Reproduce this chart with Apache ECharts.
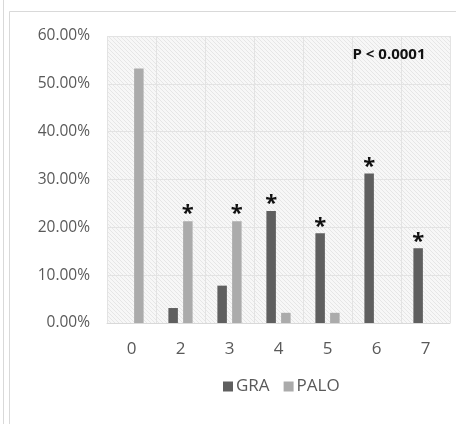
<!DOCTYPE html>
<html>
<head>
<meta charset="utf-8">
<script src="https://cdn.jsdelivr.net/npm/echarts@6/dist/echarts.min.js"></script>
<style>
  html, body { margin: 0; padding: 0; background: #fff; }
  #chart { width: 456px; height: 424px; }
</style>
</head>
<body>
<div id="chart"></div>
<script>
// Categories (score) and share of each group, in percent
var categories = ['0', '2', '3', '4', '5', '6', '7'];
var graValues = [0, 3.13, 7.81, 23.44, 18.75, 31.25, 15.63];
var paloValues = [53.19, 21.28, 21.28, 2.13, 2.13, 0, 0];
// Which bars carry a significance star
var graStars = [false, false, false, true, true, true, true];
var paloStars = [false, true, true, false, false, false, false];
var yTicks = { min: 0, max: 60, step: 10 };
var pText = 'P < 0.0001';

var FONT = '"Open Sans", "Liberation Sans", sans-serif';

// fine diagonal hatch for the plot background
function hatch() {
  var c = document.createElement('canvas');
  c.width = 4; c.height = 4;
  var g = c.getContext('2d');
  g.fillStyle = '#f7f7f7';
  g.fillRect(0, 0, 4, 4);
  g.strokeStyle = '#e6e6e6';
  g.lineWidth = 1;
  g.beginPath();
  g.moveTo(0, 0); g.lineTo(4, 4);
  g.moveTo(-1, 3); g.lineTo(1, 5);
  g.moveTo(3, -1); g.lineTo(5, 1);
  g.stroke();
  return { image: c, repeat: 'repeat' };
}

function withStars(values, stars) {
  return values.map(function (v, i) {
    return {
      value: v,
      label: { show: stars[i] }
    };
  });
}

var starLabel = {
  position: 'top',
  distance: -4,
  formatter: '*',
  fontFamily: FONT,
  fontWeight: 'bold',
  fontSize: 22,
  color: '#111'
};

var chart = echarts.init(document.getElementById('chart'), null, { renderer: 'canvas' });
chart.setOption({
  animation: false,
  backgroundColor: '#fff',
  grid: {
    left: 107, right: 6, top: 36, bottom: 101,
    show: true,
    backgroundColor: hatch(),
    borderWidth: 0
  },
  legend: {
    left: 223, top: 378, padding: 0,
    itemWidth: 10, itemHeight: 10, itemGap: 14,
    icon: 'rect',
    textStyle: { fontFamily: FONT, fontSize: 17, color: '#595959', padding: [0, 0, 0, -2] },
    data: ['GRA', 'PALO']
  },
  xAxis: {
    type: 'category',
    data: categories,
    boundaryGap: true,
    axisLine: { lineStyle: { color: '#d9d9d9', width: 1 } },
    axisTick: { show: false },
    splitLine: { show: true, lineStyle: { color: '#e3e3e3', width: 1 } },
    axisLabel: { fontFamily: FONT, fontSize: 17, color: '#595959', margin: 18 }
  },
  yAxis: {
    type: 'value',
    min: yTicks.min, max: yTicks.max, interval: yTicks.step,
    axisLine: { show: false },
    axisTick: { show: false },
    splitLine: { lineStyle: { color: '#e3e3e3', width: 1 } },
    axisLabel: {
      fontFamily: FONT, fontSize: 15.5, color: '#595959', margin: 17,
      formatter: function (v) { return v.toFixed(2) + '%'; }
    }
  },
  series: [
    {
      name: 'GRA', type: 'bar',
      data: withStars(graValues, graStars),
      barWidth: 9.5, barGap: '55%',
      itemStyle: { color: '#5f5f5f' },
      label: starLabel
    },
    {
      name: 'PALO', type: 'bar',
      data: withStars(paloValues, paloStars),
      barWidth: 9.5, barGap: '55%',
      itemStyle: { color: '#ababab' },
      label: starLabel
    }
  ],
  graphic: [
    {
      type: 'line', silent: true,
      shape: { x1: 3.5, y1: 0, x2: 3.5, y2: 424 },
      style: { stroke: '#d9d9d9', lineWidth: 1 }
    },
    {
      type: 'polyline', silent: true,
      shape: { points: [[9.5, 424], [9.5, 11.5], [460, 11.5]] },
      style: { stroke: '#d9d9d9', lineWidth: 1, fill: null }
    },
    {
      type: 'text', silent: true, z: 10,
      x: 389, y: 55,
      style: {
        text: pText, fontFamily: FONT, fontWeight: 'bold', fontSize: 15,
        fill: '#111', align: 'center', verticalAlign: 'middle'
      }
    }
  ]
});
</script>
</body>
</html>
